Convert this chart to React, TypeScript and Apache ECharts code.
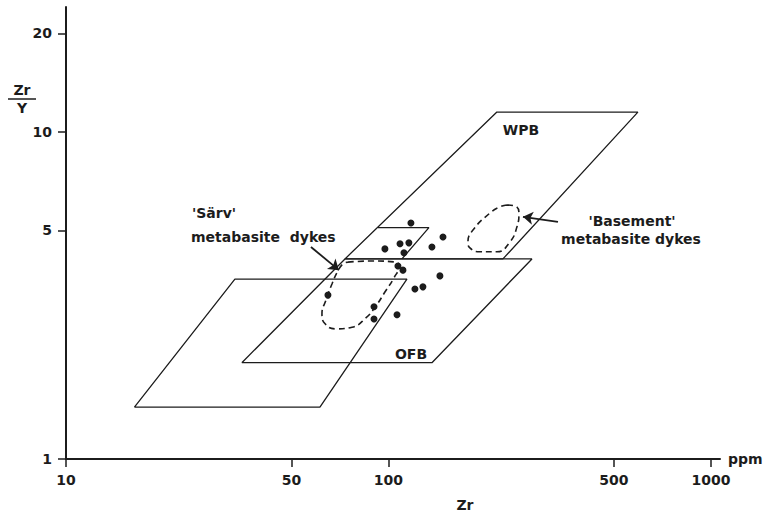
import React, { useEffect, useRef } from "react";
import * as echarts from "echarts";

// Axis tick values
const xTicks = [10, 50, 100, 500, 1000];
const yTicks = [1, 5, 10, 20];

// Discrimination fields (Zr ppm, Zr/Y)
const iabField = [[16.3, 1.44], [33.4, 3.55], [114.1, 3.55], [61.3, 1.44], [16.3, 1.44]];
const ofbField = [[35.1, 1.97], [73.3, 4.09], [278.6, 4.09], [136.4, 1.97], [35.1, 1.97]];
const wpbField = [[73.3, 4.09], [216.9, 11.5], [593.6, 11.5], [226.5, 4.09], [73.3, 4.09]];
const innerField = [[92.8, 5.1], [133.5, 5.1], [110.1, 4.09]];

// Dashed envelopes
const sarvLoop = [
  [74.9, 4.0], [88.9, 4.03], [105.5, 4.0], [107.8, 3.89], [104.0, 3.58], [97.5, 3.24],
  [91.5, 2.94], [85.1, 2.7], [77.1, 2.53], [68.8, 2.5], [63.6, 2.59], [62.2, 2.78],
  [64.0, 3.06], [66.8, 3.43], [69.7, 3.76], [72.3, 3.95], [74.9, 4.0],
];
const basementLoop = [
  [233, 5.98], [246.7, 5.94], [253.9, 5.65], [250.2, 5.12], [238.1, 4.61], [216.9, 4.3],
  [192.2, 4.3], [178.9, 4.42], [176.4, 4.61], [182.8, 5.01], [206.4, 5.65], [221.7, 5.9], [233, 5.98],
];

// Samples
const samples = [
  [117.4, 5.27], [147.6, 4.77], [97.5, 4.39], [108.6, 4.55], [115.7, 4.58], [111.7, 4.27],
  [136.4, 4.45], [107.0, 3.89], [110.9, 3.78], [144.4, 3.63], [120.8, 3.31], [127.9, 3.36],
  [64.9, 3.17], [90.2, 2.92], [90.2, 2.68], [106.3, 2.76],
];

// Arrows (from label to envelope)
const sarvArrow = [[57.5, 4.45], [70.2, 3.78]];
const basementArrow = [[335.5, 5.31], [261.3, 5.5]];

const INK = "#1c1c1c";
const FONT = "DejaVu Sans";

export default function App() {
  const ref = useRef<HTMLDivElement>(null);
  useEffect(() => {
    if (!ref.current) return;
    const chart = echarts.init(ref.current, null, { renderer: "svg" });
    const fieldLine = (data: number[][]) => ({
      type: "line",
      data,
      showSymbol: false,
      symbol: "none",
      lineStyle: { color: INK, width: 1.3 },
      silent: true,
    });
    const loopLine = (data: number[][]) => ({
      type: "line",
      data,
      showSymbol: false,
      symbol: "none",
      smooth: 0.5,
      lineStyle: { color: INK, width: 1.6, type: [6, 4] },
      silent: true,
    });
    const txt = (text: string, x: number, y: number, align = "left", size = 14) => ({
      type: "text",
      x,
      y,
      style: {
        text,
        fill: INK,
        font: `bold ${size}px "${FONT}"`,
        textAlign: align,
        textVerticalAlign: "middle",
      },
    });
    const labelStyle = {
      fontWeight: "bold",
      fontSize: 14,
      fontFamily: FONT,
      color: INK,
      margin: 14,
      formatter: (v: number) => String(Math.round(v)),
    };
    chart.setOption({
      animation: false,
      backgroundColor: "#ffffff",
      grid: { left: 66, right: 58, top: 7, bottom: 55 },
      xAxis: {
        type: "log",
        logBase: 10,
        min: 10,
        max: 1067,
        axisLine: { lineStyle: { color: INK, width: 2 } },
        axisTick: { show: true, customValues: xTicks, length: 8, lineStyle: { color: INK, width: 1.5 } },
        axisLabel: { ...labelStyle, customValues: xTicks },
        minorTick: { show: false },
        splitLine: { show: false },
        name: "ppm",
        nameLocation: "end",
        nameGap: 8,
        nameTextStyle: { fontWeight: "bold", fontSize: 14, fontFamily: FONT, color: INK },
      },
      yAxis: {
        type: "log",
        logBase: 10,
        min: 1,
        max: 24.1,
        axisLine: { lineStyle: { color: INK, width: 2 } },
        axisTick: { show: true, customValues: yTicks, length: 8, lineStyle: { color: INK, width: 1.5 } },
        axisLabel: { ...labelStyle, customValues: yTicks },
        minorTick: { show: false },
        splitLine: { show: false },
      },
      series: [
        fieldLine(iabField),
        fieldLine(ofbField),
        fieldLine(wpbField),
        fieldLine(innerField),
        loopLine(sarvLoop),
        loopLine(basementLoop),
        {
          type: "lines",
          coordinateSystem: "cartesian2d",
          symbol: ["none", "arrow"],
          symbolSize: 10,
          lineStyle: { color: INK, width: 1.8, opacity: 1 },
          itemStyle: { color: INK, opacity: 1 },
          data: [{ coords: sarvArrow }, { coords: basementArrow }],
          silent: true,
        },
        {
          type: "scatter",
          data: samples,
          symbol: "circle",
          symbolSize: 7,
          itemStyle: { color: INK, opacity: 1 },
          silent: true,
        },
      ],
      graphic: [
        txt("Zr", 22, 90, "center"),
        { type: "line", shape: { x1: 8, y1: 99, x2: 36, y2: 99 }, style: { stroke: INK, lineWidth: 1.5 } },
        txt("Y", 22, 108, "center"),
        txt("Zr", 465, 505, "center"),
        txt("WPB", 521, 130, "center"),
        txt("OFB", 411, 354, "center"),
        txt("'Särv'", 192, 213, "left"),
        txt("metabasite  dykes", 191, 237, "left"),
        txt("'Basement'", 632, 221, "center"),
        txt("metabasite dykes", 631, 239, "center"),
      ],
    });
    return () => chart.dispose();
  }, []);
  return (
    <div
      ref={ref}
      style={{ position: "fixed", left: 0, top: 0, width: 778, height: 514, background: "#fff" }}
    />
  );
}
